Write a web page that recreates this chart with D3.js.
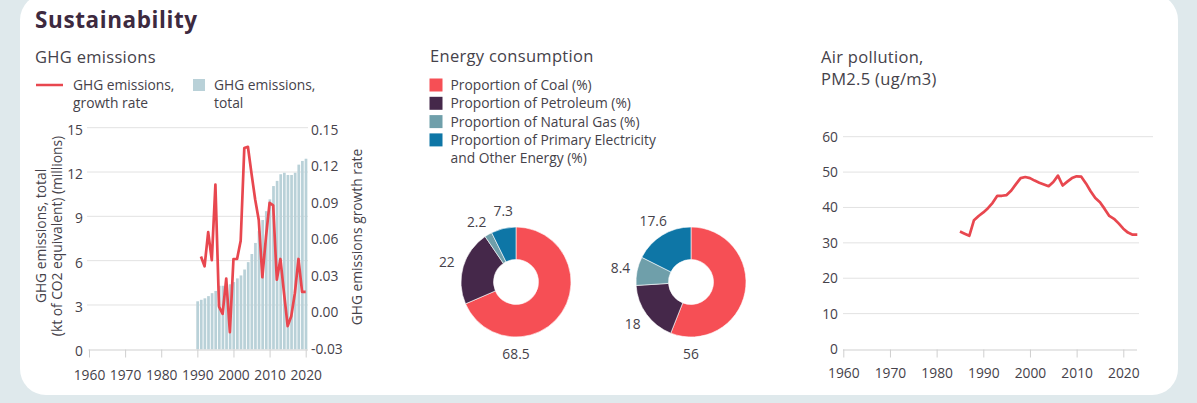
<!DOCTYPE html>
<html><head><meta charset="utf-8">
<script src="https://cdn.jsdelivr.net/npm/d3@7"></script>
<style>
html,body{margin:0;padding:0;background:#dfe9ec;}
svg{display:block;font-family:"Open Sans",sans-serif;}
</style></head>
<body>
<svg id="c" width="1197" height="403"></svg>
<script>
// ---- data ----
const ghgYears = d3.range(1990, 2021);
const ghgTotal = [3.25,3.35,3.45,3.6,3.8,3.95,4.3,4.3,4.33,4.4,4.55,4.8,5.0,5.4,5.9,6.45,7.2,8.0,8.75,9.35,10.15,11.05,11.4,11.85,11.95,11.8,11.8,11.95,12.5,12.75,12.9];
const growthYears = d3.range(1991, 2021);
const growthRate = [0.045,0.037,0.065,0.042,0.104,0.004,-0.002,0.027,-0.017,0.043,0.043,0.058,0.134,0.135,0.113,0.092,0.075,0.028,0.061,0.089,0.087,0.026,0.043,0.015,-0.012,-0.004,0.015,0.043,0.016,0.016];
const energyCategories = ["Proportion of Coal (%)","Proportion of Petroleum (%)","Proportion of Natural Gas (%)","Proportion of Primary Electricity and Other Energy (%)"];
const energyA = [68.5,22,2.2,7.3];
const energyB = [56,18,8.4,17.6];
const pmYears = d3.range(1985, 2024);
const pmValues = [33.2,32.6,32.0,36.4,37.6,38.6,39.8,41.3,43.3,43.3,43.5,44.8,46.6,48.3,48.6,48.3,47.6,47.0,46.5,46.0,47.2,49.0,46.2,47.3,48.3,48.8,48.7,46.8,44.6,42.7,41.5,39.6,37.6,36.8,35.5,34.0,32.9,32.3,32.3];
const leftTicks = [0,3,6,9,12,15];
const rightTicks = [-0.03,0,0.03,0.06,0.09,0.12,0.15];
const yearTicks = [1960,1970,1980,1990,2000,2010,2020];
const pmTicks = [0,10,20,30,40,50,60];

const C = {red:"#e8474f", bar:"#b9d1d8", coal:"#f64f55", pet:"#45284a", gas:"#6f9faa", elec:"#0e76a6", text:"#45424a", grid:"#e2e2e2", title:"#3d2a3f"};
const energyColors = [C.coal, C.pet, C.gas, C.elec];
const FS = 13.8; // tick / legend font size

const svg = d3.select("#c");
// card
svg.append("rect").attr("x",20).attr("y",-6).attr("width",1158).attr("height",401).attr("rx",26).attr("fill","#fff");

svg.append("text").attr("x",35).attr("y",28).attr("font-size",22.5).attr("font-weight",700).attr("letter-spacing",0.6).attr("fill",C.title).text("Sustainability");

// ---------- GHG chart ----------
svg.append("text").attr("x",35).attr("y",63).attr("font-size",16.5).attr("letter-spacing",0.3).attr("fill",C.text).text("GHG emissions");
// legend
svg.append("line").attr("x1",36).attr("x2",63).attr("y1",85).attr("y2",85).attr("stroke",C.red).attr("stroke-width",2.5);
const lt1 = svg.append("text").attr("x",73).attr("y",90).attr("font-size",FS).attr("fill",C.text);
lt1.append("tspan").attr("x",73).text("GHG emissions,");
lt1.append("tspan").attr("x",73).attr("dy",18).text("growth rate");
svg.append("rect").attr("x",193).attr("y",79).attr("width",12).attr("height",12).attr("fill",C.bar);
const lt2 = svg.append("text").attr("x",214).attr("y",90).attr("font-size",FS).attr("fill",C.text);
lt2.append("tspan").attr("x",214).text("GHG emissions,");
lt2.append("tspan").attr("x",214).attr("dy",18).text("total");

const x1 = d3.scaleLinear().domain([1960,2020]).range([89,305.7]);
const yL = d3.scaleLinear().domain([0,15]).range([349.3,127.7]);
const yR = d3.scaleLinear().domain([-0.03,0.15]).range([348,128.5]);

const g1 = svg.append("g");
g1.selectAll("line.grid").data(leftTicks.filter(d=>d>0)).join("line")
  .attr("x1",87).attr("x2",308).attr("y1",d=>yL(d)).attr("y2",d=>yL(d)).attr("stroke",C.grid).attr("stroke-width",1);
g1.selectAll("text.yl").data(leftTicks).join("text")
  .attr("x",83).attr("y",d=>yL(d)+7).attr("text-anchor","end").attr("font-size",FS).attr("fill",C.text).text(d=>d);
g1.selectAll("text.yr").data(rightTicks).join("text")
  .attr("x",311).attr("y",d=>yR(d)+6).attr("font-size",FS).attr("fill",C.text).text(d=>d.toFixed(2));
// bars
const bw = 2.7;
g1.selectAll("rect.bar").data(ghgYears).join("rect")
  .attr("x",(d)=>x1(d)-bw/2+0.3).attr("width",bw)
  .attr("y",(d,i)=>yL(ghgTotal[i])).attr("height",(d,i)=>yL(0)-yL(ghgTotal[i])).attr("fill",C.bar);
// x axis
const ax1 = g1.append("g").attr("transform","translate(0,349.5)").call(d3.axisBottom(x1).tickValues(yearTicks).tickFormat(d3.format("d")).tickSize(8).tickSizeOuter(0));
ax1.select(".domain").attr("stroke","#cfcfcf").attr("d","M88.5,0.5H308");
ax1.selectAll(".tick line").attr("stroke","#cfcfcf");
ax1.selectAll(".tick text").attr("font-size",FS).attr("fill",C.text).attr("dy","1.4em").attr("font-family","Open Sans, sans-serif");
// growth line
g1.append("path").datum(growthYears)
  .attr("d",d3.line().x(d=>x1(d)).y((d,i)=>yR(growthRate[i])))
  .attr("fill","none").attr("stroke",C.red).attr("stroke-width",2.7).attr("stroke-linejoin","round");
// axis titles
const at = svg.append("text").attr("transform","translate(46,236) rotate(-90)").attr("text-anchor","middle").attr("font-size",FS).attr("fill",C.text);
at.append("tspan").attr("x",0).attr("dy",0).text("GHG emissions, total");
at.append("tspan").attr("x",0).attr("dy",16).text("(kt of CO2 equivalent) (millions)");
svg.append("text").attr("transform","translate(362,237) rotate(-90)").attr("text-anchor","middle").attr("font-size",FS).attr("fill",C.text).text("GHG emissions growth rate");

// ---------- Energy ----------
svg.append("text").attr("x",430).attr("y",62).attr("font-size",16.5).attr("letter-spacing",0.3).attr("fill",C.text).text("Energy consumption");
const lg = svg.append("g");
const legRows = [[energyCategories[0]],[energyCategories[1]],[energyCategories[2]],["Proportion of Primary Electricity","and Other Energy (%)"]];
legRows.forEach((lines,i)=>{
  const cy = 85 + i*18.3;
  lg.append("rect").attr("x",429.5).attr("y",cy-6.5).attr("width",13).attr("height",13).attr("fill",energyColors[i]);
  lines.forEach((t,j)=>{
    lg.append("text").attr("x",450.5).attr("y",cy+5+j*18.3).attr("font-size",FS).attr("fill",C.text).text(t);
  });
});
const pie = d3.pie().sort(null).value(d=>d);
const arc = d3.arc().innerRadius(22.5).outerRadius(55);
function donut(cx, cy, vals){
  const g = svg.append("g").attr("transform",`translate(${cx},${cy})`);
  const arcs = pie(vals);
  g.selectAll("path").data(arcs).join("path").attr("d",arc).attr("fill",(d,i)=>energyColors[i]).attr("stroke","#fff").attr("stroke-width",0.6);
  // label angles: first (largest) slice labelled at the bottom, others at mid-angle, spread if too close
  const ang = arcs.map((d,i)=> i===0 ? Math.PI : (d.startAngle+d.endAngle)/2);
  const minGap = 0.4;
  for(let i=2;i<ang.length;i++){
    const gap = ang[i]-ang[i-1];
    if(gap<minGap){ const m=(ang[i]+ang[i-1])/2; ang[i-1]=m-minGap/2; ang[i]=m+minGap/2; }
  }
  g.selectAll("text").data(arcs).join("text")
    .attr("transform",(d,i)=>{
      const a = ang[i], r = 72;
      return `translate(${r*Math.sin(a)},${-r*Math.cos(a)+5})`;
    })
    .attr("text-anchor","middle").attr("font-size",FS).attr("fill",C.text).text(d=>d.data);
}
donut(516,282,energyA);
donut(691,282,energyB);

// ---------- Air pollution ----------
const pt = svg.append("text").attr("x",821).attr("y",63).attr("font-size",16.5).attr("letter-spacing",0.3).attr("fill",C.text);
pt.append("tspan").attr("x",821).text("Air pollution,");
pt.append("tspan").attr("x",821).attr("dy",22).text("PM2.5 (ug/m3)");
const x3 = d3.scaleLinear().domain([1960,2020]).range([843.3,1123.3]);
const y3 = d3.scaleLinear().domain([0,60]).range([349,136.7]);
const g3 = svg.append("g");
g3.selectAll("line.grid").data(pmTicks.filter(d=>d>0)).join("line")
  .attr("x1",843).attr("x2",d=>d===60?1153:1139).attr("y1",d=>y3(d)).attr("y2",d=>y3(d)).attr("stroke",C.grid);
g3.selectAll("text.yl").data(pmTicks).join("text")
  .attr("x",838).attr("y",d=>y3(d)+5).attr("text-anchor","end").attr("font-size",FS).attr("fill",C.text).text(d=>d);
const ax3 = g3.append("g").attr("transform","translate(0,349.5)").call(d3.axisBottom(x3).tickValues(yearTicks).tickFormat(d3.format("d")).tickSize(8).tickSizeOuter(0));
ax3.select(".domain").attr("stroke","#cfcfcf").attr("d","M843,0.5H1137");
ax3.selectAll(".tick line").attr("stroke","#cfcfcf");
ax3.selectAll(".tick text").attr("font-size",FS).attr("fill",C.text).attr("dy","1.3em").attr("font-family","Open Sans, sans-serif");
g3.append("path").datum(pmYears)
  .attr("d",d3.line().x(d=>x3(d)).y((d,i)=>y3(pmValues[i])))
  .attr("fill","none").attr("stroke",C.red).attr("stroke-width",2.7).attr("stroke-linejoin","round");
</script>
</body></html>
